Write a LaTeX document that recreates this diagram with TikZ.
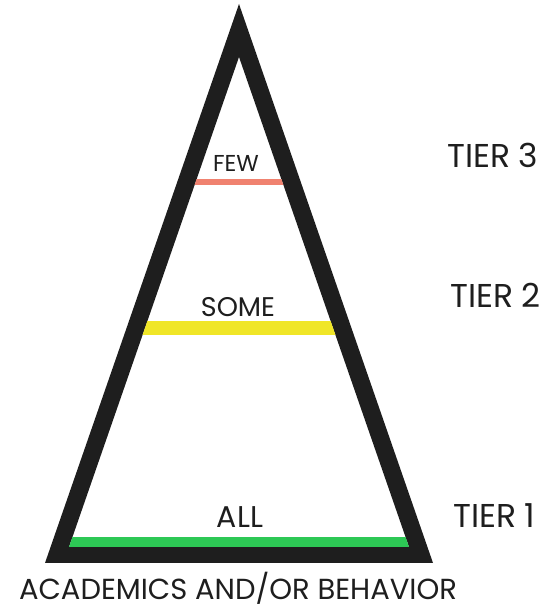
\documentclass[tikz,border=0pt]{standalone}
\usepackage{fontspec}
\setmainfont{Poppins}
\definecolor{tri}{RGB}{30,30,30}
\definecolor{txt}{RGB}{30,30,30}
\definecolor{fewc}{RGB}{240,130,112}
\definecolor{somec}{RGB}{240,230,40}
\definecolor{allc}{RGB}{45,200,85}
\begin{document}
\begin{tikzpicture}[x=1pt,y=1pt,
  lbl/.style={text=txt,inner sep=0pt,anchor=base},
  tier/.style={text=txt,inner sep=0pt,anchor=base west,font=\fontsize{33}{33}\selectfont}]
\useasboundingbox (0,0) rectangle (550,607);
\fill[white] (0,0) rectangle (550,607);
% triangle frame
\fill[tri,even odd rule] (45,44) -- (239,603) -- (433,44) -- cycle
  (69,60) -- (239,550) -- (409,60) -- cycle;
% tier lines clipped to inside
\begin{scope}
\clip (69,60) -- (239,550) -- (409,60) -- cycle;
\fill[fewc] (0,422) rectangle (550,428);
\fill[somec] (0,272) rectangle (550,286);
\fill[allc] (0,60) rectangle (550,70);
\end{scope}
\node[lbl,font=\fontsize{23}{23}\selectfont] (few) at (236,435) {FEW};
\node[lbl,font=\fontsize{27}{27}\selectfont] (some) at (238,290) {SOME};
\node[lbl,font=\fontsize{30}{30}\selectfont] (all) at (240,79) {ALL};
\node[tier] (t3) at (447,439) {TIER 3};
\node[tier] (t2) at (450,299) {TIER 2};
\node[tier] (t1) at (453,79) {TIER 1};
\node[lbl,font=\fontsize{29}{29}\selectfont] (acad) at (238,8) {ACADEMICS AND/OR BEHAVIOR};
\end{tikzpicture}
\end{document}
